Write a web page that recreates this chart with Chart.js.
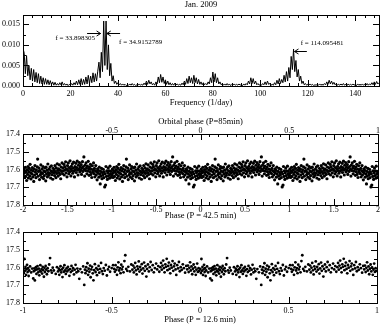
<!DOCTYPE html>
<html>
<head>
<meta charset="utf-8">
<script src="https://cdn.jsdelivr.net/npm/chart.js@4.4.0/dist/chart.umd.min.js"></script>
<style>
  html, body { margin: 0; padding: 0; background: #fff; }
  #wrap { position: relative; width: 382px; height: 325px; }
  canvas { position: absolute; left: 0; }
</style>
</head>
<body>
<div id="wrap">
  <canvas id="c1" width="382" height="108" style="top:0px"></canvas>
  <canvas id="c2" width="382" height="113" style="top:108px"></canvas>
  <canvas id="c3" width="382" height="104" style="top:221px"></canvas>
</div>
<script>
// Periodogramme : amplitude (unité 0.001) tous les 0.5 1/day, de 0 à 150
const freqStep = 0.5;
const power = [
  9.2, 8.0, 3.0, 7.4, 2.5, 5.0, 1.5, 4.3, 1.2, 4.0, 1.0, 3.3, 0.8, 3.0, 0.6, 2.4, 0.5, 2.0, 0.4, 1.8,
  0.4, 1.5, 0.3, 1.3, 0.3, 1.0, 0.2, 0.9, 0.2, 0.6, 0.2, 0.8, 0.3, 1.0, 0.2, 0.6, 0.2, 0.5, 0.1, 0.4,
  0.2, 0.6, 0.2, 0.8, 0.3, 1.2, 0.3, 1.5, 0.4, 1.8, 0.3, 1.6, 0.4, 2.2, 0.5, 2.6, 0.6, 2.4, 0.8, 3.2,
  1.0, 3.0, 1.2, 3.6, 5.8, 2.0, 8.2, 3.5, 15.8, 5.0, 15.8, 4.0, 10.0, 2.5, 5.5, 1.2, 2.5, 0.6, 1.2, 0.4,
  0.8, 0.3, 0.6, 0.2, 0.5, 0.2, 0.4, 0.1, 0.3, 0.2, 0.5, 0.2, 0.6, 0.2, 0.4, 0.1, 0.3, 0.2, 0.5, 0.2,
  0.4, 0.2, 0.7, 0.3, 1.2, 0.4, 1.4, 0.5, 1.0, 0.3, 0.6, 0.2, 1.0, 0.5, 2.2, 0.8, 2.8, 0.9, 2.2, 0.6,
  1.5, 0.4, 1.2, 0.3, 0.8, 0.2, 0.6, 0.2, 0.7, 0.3, 0.5, 0.2, 0.4, 0.2, 0.7, 0.3, 1.2, 0.4, 1.8, 0.6,
  2.4, 0.8, 2.0, 0.6, 2.6, 0.8, 2.0, 0.5, 1.6, 0.4, 1.0, 0.3, 0.8, 0.3, 0.6, 0.3, 1.0, 0.5, 2.0, 0.8,
  3.4, 1.0, 3.0, 0.8, 2.0, 0.5, 1.0, 0.3, 0.6, 0.2, 0.5, 0.2, 0.6, 0.2, 0.5, 0.1, 0.4, 0.2, 0.5, 0.2,
  0.4, 0.2, 0.5, 0.2, 0.4, 0.1, 0.5, 0.2, 0.6, 0.3, 1.2, 0.5, 2.0, 0.6, 1.8, 0.5, 1.2, 0.3, 0.6, 0.2,
  0.4, 0.2, 0.6, 0.3, 1.0, 0.3, 1.2, 0.4, 0.6, 0.2, 0.4, 0.2, 0.8, 0.3, 1.4, 0.5, 1.8, 0.6, 1.6, 0.8,
  2.6, 1.0, 3.5, 1.2, 4.5, 2.0, 7.2, 4.0, 9.0, 3.5, 6.2, 2.2, 4.0, 1.2, 2.4, 0.6, 1.2, 0.3, 0.6, 0.2,
  0.4, 0.2, 0.5, 0.2, 0.4, 0.1, 0.3, 0.2, 0.4, 0.2, 0.5, 0.2, 0.4, 0.2, 0.6, 0.3, 1.0, 0.4, 1.4, 0.5,
  1.2, 0.4, 0.9, 0.3, 0.6, 0.2, 0.4, 0.2, 0.5, 0.2, 0.6, 0.2, 0.4, 0.1, 0.5, 0.2, 0.4, 0.2, 0.5, 0.2,
  0.4, 0.1, 0.5, 0.2, 0.4, 0.2, 0.5, 0.2, 0.4, 0.2, 0.6, 0.2, 0.5, 0.3, 0.8, 0.3, 1.0, 0.4, 1.1, 0.5,
  0.8
];
const freqTicks = [0, 20, 40, 60, 80, 100, 120, 140];
const freqLabels = ['0', '20', '40', '60', '80', '100', '120', '140'];
const powerTicks = [0, 5, 10, 15];
const powerLabels = ['0.000', '0.005', '0.010', '0.015'];

// Pics marqués
const peakNotes = [
  { text: 'f = 33.898305', from: 27.0, to: 32.7, arrowY: 12.8, textX: 30.3, textY: 11.6, align: 'right' },
  { text: 'f = 34.9152789', from: 40.9, to: 35.3, arrowY: 12.8, textX: 40.5, textY: 10.6, align: 'left' },
  { text: 'f = 114.095481', from: 119.6, to: 114.4, arrowY: 8.6, textX: 117.0, textY: 10.5, align: 'left' }
];

// Courbe de lumière repliée sur P = 42.5 min (un cycle, [phase, mag])
const fold42 = [
  [0.002,17.632],[0.007,17.598],[0.011,17.621],[0.016,17.645],[0.020,17.607],[0.026,17.588],[0.030,17.639],[0.035,17.615],[0.041,17.662],[0.046,17.601],
  [0.052,17.627],[0.056,17.583],[0.061,17.648],[0.066,17.612],[0.071,17.594],[0.075,17.636],[0.080,17.571],[0.086,17.619],[0.090,17.653],[0.095,17.604],
  [0.101,17.625],[0.105,17.589],[0.110,17.642],[0.115,17.608],[0.121,17.667],[0.125,17.596],[0.130,17.631],[0.135,17.578],[0.140,17.614],[0.146,17.646],
  [0.150,17.602],[0.155,17.624],[0.161,17.585],[0.165,17.541],[0.170,17.638],[0.175,17.611],[0.180,17.592],[0.186,17.657],[0.190,17.606],[0.196,17.629],
  [0.201,17.574],[0.205,17.618],[0.210,17.643],[0.216,17.597],[0.220,17.622],[0.225,17.583],[0.231,17.651],[0.235,17.609],[0.240,17.635],[0.246,17.591],
  [0.250,17.613],[0.256,17.664],[0.260,17.587],[0.265,17.626],[0.271,17.604],[0.275,17.642],[0.280,17.569],[0.285,17.617],[0.291,17.633],[0.295,17.598],
  [0.301,17.621],[0.305,17.586],[0.311,17.648],[0.315,17.607],[0.320,17.579],[0.326,17.629],[0.330,17.612],[0.335,17.655],[0.340,17.593],[0.346,17.618],
  [0.350,17.601],[0.356,17.634],[0.360,17.578],[0.365,17.612],[0.371,17.646],[0.375,17.591],[0.380,17.622],[0.386,17.568],[0.390,17.605],[0.396,17.637],
  [0.401,17.596],[0.405,17.617],[0.410,17.574],[0.416,17.628],[0.420,17.603],[0.425,17.652],[0.431,17.586],[0.435,17.611],[0.440,17.563],[0.446,17.624],
  [0.450,17.592],[0.455,17.608],[0.461,17.571],[0.465,17.631],[0.470,17.584],[0.476,17.602],[0.480,17.557],[0.485,17.619],[0.490,17.596],[0.496,17.641],
  [0.501,17.578],[0.505,17.605],[0.510,17.563],[0.516,17.624],[0.520,17.589],[0.525,17.612],[0.530,17.551],[0.536,17.597],[0.540,17.636],[0.545,17.582],
  [0.550,17.606],[0.556,17.568],[0.560,17.621],[0.565,17.593],[0.570,17.558],[0.576,17.609],[0.580,17.642],[0.585,17.584],[0.590,17.601],[0.596,17.565],
  [0.600,17.617],[0.605,17.589],[0.611,17.553],[0.615,17.603],[0.620,17.631],[0.625,17.576],[0.630,17.598],[0.636,17.561],[0.640,17.614],[0.645,17.587],
  [0.651,17.604],[0.655,17.572],[0.660,17.628],[0.665,17.591],[0.670,17.556],[0.675,17.611],[0.680,17.583],[0.686,17.529],[0.690,17.599],[0.695,17.637],
  [0.700,17.575],[0.706,17.606],[0.710,17.562],[0.715,17.592],[0.720,17.624],[0.725,17.581],[0.730,17.609],[0.735,17.554],[0.741,17.597],[0.745,17.633],
  [0.750,17.586],[0.755,17.612],[0.760,17.571],[0.765,17.628],[0.770,17.598],[0.775,17.645],[0.781,17.579],[0.785,17.615],[0.790,17.602],[0.795,17.563],
  [0.800,17.623],[0.805,17.594],[0.810,17.641],[0.816,17.607],[0.820,17.578],[0.825,17.631],[0.830,17.612],[0.835,17.658],[0.840,17.596],[0.846,17.621],
  [0.850,17.605],[0.855,17.643],[0.860,17.587],[0.865,17.626],[0.870,17.681],[0.875,17.611],[0.880,17.637],[0.885,17.594],[0.890,17.652],[0.896,17.618],
  [0.900,17.631],[0.905,17.599],[0.910,17.646],[0.915,17.613],[0.920,17.698],[0.925,17.624],[0.930,17.688],[0.935,17.583],[0.940,17.639],[0.945,17.607],
  [0.950,17.656],[0.955,17.619],[0.960,17.592],[0.965,17.634],[0.970,17.608],[0.975,17.649],[0.980,17.581],[0.985,17.626],[0.990,17.611],[0.995,17.643]
];
const cycles42 = [-2, -1, 0, 1];
const phaseTicks42 = [-2, -1.5, -1, -0.5, 0, 0.5, 1, 1.5, 2];
const phaseLabels42 = ['-2', '-1.5', '-1', '-0.5', '0', '0.5', '1', '1.5', '2'];
const orbitalTicks = [-0.5, 0, 0.5, 1];
const orbitalLabels = ['-0.5', '0', '0.5', '1'];

// Courbe de lumière repliée sur P = 12.6 min (un cycle, [phase, mag])
const fold12 = [
  [0.002,17.608],[0.005,17.631],[0.008,17.552],[0.011,17.619],[0.014,17.597],[0.017,17.642],[0.020,17.611],[0.023,17.585],[0.026,17.626],[0.029,17.603],[0.032,17.648],[0.035,17.617],
  [0.040,17.594],[0.046,17.628],[0.052,17.606],
  [0.058,17.662],[0.061,17.621],[0.064,17.605],[0.067,17.673],[0.070,17.614],[0.073,17.598],[0.076,17.636],[0.079,17.611],[0.082,17.592],[0.086,17.627],[0.089,17.606],[0.092,17.644],
  [0.095,17.618],[0.098,17.587],[0.101,17.623],[0.105,17.609],[0.108,17.634],[0.111,17.596],[0.114,17.615],[0.118,17.652],[0.121,17.602],[0.124,17.626],[0.128,17.591],[0.131,17.612],
  [0.135,17.638],[0.139,17.604],[0.143,17.621],[0.148,17.583],[0.153,17.547],[0.158,17.616],[0.163,17.629],[0.168,17.601],
  [0.174,17.617],[0.185,17.636],[0.192,17.598],
  [0.198,17.622],[0.202,17.607],[0.205,17.641],[0.209,17.615],[0.212,17.593],[0.216,17.628],[0.220,17.611],[0.223,17.654],[0.227,17.601],[0.231,17.624],[0.234,17.587],[0.238,17.617],
  [0.242,17.636],[0.246,17.605],[0.250,17.622],[0.254,17.596],[0.258,17.613],[0.262,17.647],[0.266,17.609],[0.270,17.626],[0.274,17.591],[0.279,17.618],[0.283,17.603],[0.288,17.639],
  [0.292,17.612],[0.297,17.585],[0.302,17.628],[0.307,17.606],[0.312,17.621],[0.318,17.664],
  [0.324,17.609],[0.333,17.627],[0.340,17.594],
  [0.346,17.698],[0.350,17.612],[0.353,17.632],[0.357,17.598],[0.360,17.619],[0.364,17.576],[0.368,17.641],[0.371,17.607],[0.375,17.624],[0.379,17.589],[0.382,17.655],[0.386,17.611],
  [0.390,17.596],[0.394,17.633],[0.398,17.672],[0.402,17.615],[0.406,17.581],[0.410,17.626],[0.414,17.604],[0.418,17.643],[0.422,17.612],[0.427,17.591],[0.431,17.629],[0.436,17.608],
  [0.441,17.574],[0.446,17.621],[0.451,17.637],[0.456,17.603],[0.462,17.618],[0.468,17.586],[0.474,17.645],[0.480,17.611],[0.486,17.596],
  [0.492,17.624],[0.501,17.603],[0.509,17.587],
  [0.515,17.608],[0.519,17.624],[0.523,17.587],[0.527,17.613],[0.531,17.641],[0.535,17.599],[0.539,17.571],[0.543,17.617],[0.547,17.603],[0.551,17.632],[0.555,17.584],[0.559,17.611],
  [0.563,17.596],[0.568,17.627],[0.573,17.564],[0.578,17.531],[0.583,17.608],[0.589,17.619],
  [0.595,17.596],[0.604,17.622],[0.612,17.583],
  [0.618,17.612],[0.622,17.589],[0.626,17.628],[0.630,17.601],[0.634,17.574],[0.638,17.616],[0.642,17.639],[0.646,17.594],[0.650,17.608],[0.654,17.566],[0.658,17.623],[0.662,17.597],
  [0.667,17.612],[0.671,17.581],[0.675,17.634],[0.679,17.605],[0.684,17.572],[0.688,17.619],[0.692,17.593],[0.697,17.651],[0.701,17.608],[0.706,17.583],[0.711,17.622],[0.716,17.598],
  [0.721,17.569],[0.727,17.614],[0.733,17.587],[0.739,17.627],[0.745,17.603],[0.752,17.578],
  [0.758,17.611],[0.764,17.592],[0.770,17.624],
  [0.776,17.598],[0.780,17.574],[0.784,17.612],[0.788,17.589],[0.792,17.561],[0.796,17.603],[0.800,17.627],[0.804,17.582],[0.808,17.596],[0.812,17.551],[0.816,17.615],[0.820,17.591],
  [0.824,17.572],[0.828,17.608],[0.832,17.633],[0.836,17.586],[0.840,17.601],[0.845,17.564],[0.849,17.619],[0.853,17.594],[0.857,17.578],[0.862,17.611],[0.866,17.642],[0.871,17.587],
  [0.876,17.605],[0.881,17.569],[0.886,17.621],[0.891,17.598],[0.897,17.613],[0.903,17.582],
  [0.909,17.604],[0.916,17.629],[0.922,17.591],
  [0.928,17.611],[0.932,17.589],[0.936,17.626],[0.940,17.602],[0.944,17.571],[0.948,17.617],[0.952,17.594],[0.956,17.638],[0.960,17.607],[0.964,17.583],[0.968,17.622],[0.972,17.599],
  [0.976,17.641],[0.980,17.612],[0.984,17.578],[0.988,17.625],[0.992,17.604],[0.996,17.619]
];
const cycles12 = [-1, 0];
const phaseTicks12 = [-1, -0.5, 0, 0.5, 1];
const phaseLabels12 = ['-1', '-0.5', '0', '0.5', '1'];

const magTicks = [17.4, 17.5, 17.6, 17.7, 17.8];
const magLabels = ['17.4', '17.5', '17.6', '17.7', '17.8'];

const serif = "'Liberation Serif', 'Times New Roman', serif";
Chart.defaults.font.family = serif;
Chart.defaults.font.size = 8;
Chart.defaults.color = '#000';

// Petites fonctions
function steps(from, to, step) {
    const out = [];
    for (let v = from; v <= to + 1e-9; v += step) out.push(+v.toFixed(4));
    return out;
}

function fixTicks(values) {
    return scale => { scale.ticks = values.map(v => ({ value: v })); };
}

function repeatCycles(points, shifts) {
    const out = [];
    shifts.forEach(s => points.forEach(p => out.push({ x: p[0] + s, y: p[1] })));
    return out;
}

// Cadre + graduations vers l'intérieur
function frameTicks(spec) {
    return {
        id: 'frameTicks',
        afterDraw(chart) {
            const { ctx, chartArea: a } = chart;
            const xs = chart.scales.x, ys = chart.scales.y;
            ctx.save();
            ctx.strokeStyle = '#000';
            ctx.lineWidth = 1;
            ctx.beginPath();
            const vTick = (v, len) => {
                const p = Math.round(xs.getPixelForValue(v)) + 0.5;
                ctx.moveTo(p, a.bottom); ctx.lineTo(p, a.bottom - len);
                ctx.moveTo(p, a.top); ctx.lineTo(p, a.top + len);
            };
            const hTick = (v, len) => {
                const p = Math.round(ys.getPixelForValue(v)) + 0.5;
                ctx.moveTo(a.left, p); ctx.lineTo(a.left + len, p);
                ctx.moveTo(a.right, p); ctx.lineTo(a.right - len, p);
            };
            spec.xMajor.forEach(v => vTick(v, 6));
            spec.xMinor.forEach(v => vTick(v, 3));
            spec.yMajor.forEach(v => hTick(v, 6));
            spec.yMinor.forEach(v => hTick(v, 3));
            ctx.stroke();
            ctx.strokeRect(Math.round(a.left) + 0.5, Math.round(a.top) + 0.5,
                Math.round(a.right - a.left), Math.round(a.bottom - a.top));
            ctx.restore();
        }
    };
}

// Flèches et textes des pics
const peakPlugin = {
    id: 'peakPlugin',
    afterDatasetsDraw(chart) {
        const { ctx } = chart;
        const xs = chart.scales.x, ys = chart.scales.y;
        ctx.save();
        ctx.strokeStyle = '#000';
        ctx.fillStyle = '#000';
        ctx.lineWidth = 1;
        ctx.font = '7px ' + serif;
        peakNotes.forEach(n => {
            const x0 = xs.getPixelForValue(n.from);
            const x1 = xs.getPixelForValue(n.to);
            const y = Math.round(ys.getPixelForValue(n.arrowY)) + 0.5;
            const d = Math.sign(x1 - x0);
            ctx.beginPath();
            ctx.moveTo(x0, y); ctx.lineTo(x1, y);
            ctx.moveTo(x1 - d * 4, y - 2.5); ctx.lineTo(x1, y); ctx.lineTo(x1 - d * 4, y + 2.5);
            ctx.stroke();
            ctx.textAlign = n.align;
            ctx.textBaseline = 'middle';
            ctx.fillText(n.text, xs.getPixelForValue(n.textX), ys.getPixelForValue(n.textY));
        });
        ctx.restore();
    }
};

const common = {
    responsive: false,
    animation: false,
    devicePixelRatio: 1,
    events: []
};

const noGrid = { display: false, drawTicks: false };

function yAxis(ticks, labels, opts) {
    return Object.assign({
        type: 'linear',
        afterBuildTicks: fixTicks(ticks),
        afterFit: s => { s.width = 23; },
        grid: noGrid,
        border: { display: false },
        ticks: { callback: (v, i) => labels[i], padding: 3, font: { size: 8 } }
    }, opts);
}

function xAxis(ticks, labels, opts, title, height, pad) {
    return Object.assign({
        type: 'linear',
        afterBuildTicks: fixTicks(ticks),
        afterFit: s => { s.height = height; },
        grid: noGrid,
        border: { display: false },
        ticks: { callback: (v, i) => labels[i], padding: pad, autoSkip: false, maxRotation: 0, minRotation: 0, font: { size: 8 } },
        title: { display: !!title, text: title, padding: 0, font: { size: 8.5 } }
    }, opts);
}

// Panneau 1 : périodogramme
new Chart(document.getElementById('c1'), {
    type: 'line',
    data: {
        datasets: [{
            data: power.map((p, i) => ({ x: i * freqStep, y: p })),
            borderColor: '#000',
            borderWidth: 1,
            pointRadius: 0,
            tension: 0
        }]
    },
    options: Object.assign({}, common, {
        layout: { padding: { left: 0, right: 3, top: 0, bottom: 0 } },
        plugins: {
            legend: { display: false },
            tooltip: { enabled: false },
            title: {
                display: true, text: 'Jan. 2009', fullSize: false, color: '#000',
                font: { size: 8.5, weight: 'normal', family: serif },
                padding: { top: 0, bottom: 4.8 }
            }
        },
        scales: {
            x: xAxis(freqTicks, freqLabels, { min: 0, max: 150 }, 'Frequency (1/day)', 22, 3),
            y: yAxis(powerTicks, powerLabels, { min: 0, max: 17.27 })
        }
    }),
    plugins: [frameTicks({
        xMajor: freqTicks, xMinor: steps(0, 150, 4),
        yMajor: powerTicks, yMinor: [2.5, 7.5, 12.5]
    }), peakPlugin]
});

// Panneau 2 : P = 42.5 min
new Chart(document.getElementById('c2'), {
    type: 'scatter',
    data: {
        datasets: [{
            data: repeatCycles(fold42, cycles42),
            backgroundColor: '#000',
            borderWidth: 0,
            pointRadius: 1.6
        }]
    },
    options: Object.assign({}, common, {
        layout: { padding: { left: 0, right: 3, top: 0, bottom: 0 } },
        plugins: { legend: { display: false }, tooltip: { enabled: false } },
        scales: {
            x: xAxis(phaseTicks42, phaseLabels42, { min: -2, max: 2, position: 'bottom' }, 'Phase (P = 42.5 min)', 16, 0),
            xTop: (function () {
                const a = xAxis(orbitalTicks, orbitalLabels, { min: -1, max: 1, position: 'top' }, 'Orbital phase (P=85min)', 26, -2);
                a.title.padding = { top: 8.5, bottom: 0 };
                return a;
            })(),
            y: yAxis(magTicks, magLabels, { min: 17.4, max: 17.8, reverse: true })
        }
    }),
    plugins: [frameTicks({
        xMajor: phaseTicks42, xMinor: steps(-2, 2, 0.1),
        yMajor: magTicks, yMinor: [17.45, 17.55, 17.65, 17.75]
    })]
});

// Panneau 3 : P = 12.6 min
new Chart(document.getElementById('c3'), {
    type: 'scatter',
    data: {
        datasets: [{
            data: repeatCycles(fold12, cycles12),
            backgroundColor: '#000',
            borderWidth: 0,
            pointRadius: 1.4
        }]
    },
    options: Object.assign({}, common, {
        layout: { padding: { left: 0, right: 3, top: 11, bottom: 0 } },
        plugins: { legend: { display: false }, tooltip: { enabled: false } },
        scales: {
            x: xAxis(phaseTicks12, phaseLabels12, { min: -1, max: 1 }, 'Phase (P = 12.6 min)', 22, 3),
            y: yAxis(magTicks, magLabels, { min: 17.4, max: 17.8, reverse: true })
        }
    }),
    plugins: [frameTicks({
        xMajor: phaseTicks12, xMinor: steps(-1, 1, 0.1),
        yMajor: magTicks, yMinor: [17.45, 17.55, 17.65, 17.75]
    })]
});
</script>
</body>
</html>
